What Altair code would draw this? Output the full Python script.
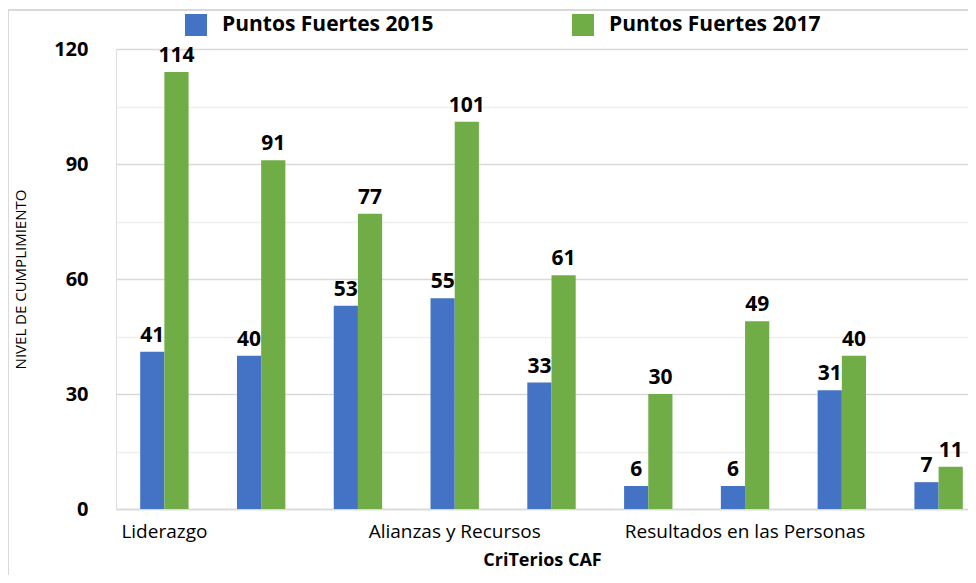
import altair as alt
import pandas as pd

categorias = [
    "Liderazgo",
    "Estrategia y Planificación",
    "Personas",
    "Alianzas y Recursos",
    "Procesos",
    "Resultados orientados a los Ciudadanos/Clientes",
    "Resultados en las Personas",
    "Resultados de Responsabilidad Social",
    "Resultados Clave de Rendimiento",
]
series = ["Puntos Fuertes 2015", "Puntos Fuertes 2017"]
valores_2015 = [41, 40, 53, 55, 33, 6, 6, 31, 7]
valores_2017 = [114, 91, 77, 101, 61, 30, 49, 40, 11]
etiquetas_visibles = ["Liderazgo", "Alianzas y Recursos", "Resultados en las Personas"]
colores = ["#4472C4", "#70AD47"]

rows = []
for c, v in zip(categorias, valores_2015):
    rows.append({"criterio": c, "serie": series[0], "valor": v})
for c, v in zip(categorias, valores_2017):
    rows.append({"criterio": c, "serie": series[1], "valor": v})
df = pd.DataFrame(rows)

FONT = "Open Sans"
vis_expr = "indexof(" + str(etiquetas_visibles) + ", datum.label) >= 0 ? datum.label : ''"

x_enc = alt.X(
    "criterio:N",
    sort=categorias,
    scale=alt.Scale(paddingInner=0.5, paddingOuter=0.25, range=[0, 871]),
    axis=alt.Axis(
        title="CriTerios CAF",
        labelExpr=vis_expr,
        labelOverlap=False,
        labelAngle=0,
        labelLimit=400,
        labelFont=FONT,
        labelFontSize=19,
        labelColor="#000000",
        labelPadding=13,
        ticks=False,
        domainColor="#d9d9d9",
        domainWidth=1.5,
        titleFont=FONT,
        titleFontSize=18,
        titleFontWeight="bold",
        titleColor="#000000",
        titlePadding=10,
        titleX=426,
    ),
)
y_enc = alt.Y(
    "valor:Q",
    scale=alt.Scale(domain=[0, 120], nice=False),
    axis=alt.Axis(
        title="NIVEL DE CUMPLIMIENTO",
        values=[0, 15, 30, 45, 60, 75, 90, 105, 120],
        labelExpr="datum.value % 30 == 0 ? datum.label : ''",
        labelFont=FONT,
        labelFontSize=20,
        labelFontWeight="bold",
        labelColor="#000000",
        labelPadding=28,
        ticks=False,
        domain=False,
        gridColor={"condition": {"test": "datum.value % 30 == 0", "value": "#d9d9d9"}, "value": "#efefef"},
        gridWidth=1.5,
        titleFont=FONT,
        titleFontSize=15,
        titleFontWeight="normal",
        titleColor="#000000",
        titleAngle=270,
        titleX=-96,
        titleY=230,
        titleAlign="center",
        titleBaseline="middle",
    ),
)
color_enc = alt.Color(
    "serie:N",
    sort=series,
    scale=alt.Scale(domain=series, range=colores),
    legend=alt.Legend(
        title=None,
        orient="none",
        direction="horizontal",
        legendX=69,
        legendY=-35,
        symbolType="square",
        symbolSize=484,
        symbolStrokeWidth=0,
        labelFont=FONT,
        labelFontSize=21,
        labelFontWeight="bold",
        labelColor="#000000",
        labelOffset=15,
        columnPadding=138,
        labelLimit=400,
    ),
)

base = alt.Chart(df).encode(
    x=x_enc,
    xOffset=alt.XOffset("serie:N", sort=series, scale=alt.Scale(paddingInner=0, paddingOuter=0)),
    y=y_enc,
)

bars = base.mark_bar().encode(color=color_enc)
labels = base.mark_text(
    baseline="bottom", dy=-6, font=FONT, fontSize=21, fontWeight="bold", color="#000000"
).encode(text="valor:Q")

frame_left = alt.Chart(df).mark_rule(color="#d9d9d9", strokeWidth=1.5).encode(
    x=alt.value(-108), y=alt.value(-39), y2=alt.value(540)
)
frame_top = alt.Chart(df).mark_rule(color="#d9d9d9", strokeWidth=1.5).encode(
    x=alt.value(-108), x2=alt.value(860), y=alt.value(-39)
)

chart = (
    alt.layer(frame_left, frame_top, bars, labels)
    .properties(
        width=852,
        height=460,
        autosize=alt.AutoSizeParams(type="none"),
        padding={"left": 108, "top": 41, "right": 0, "bottom": 66},
    )
    .configure_view(stroke=None)
    .configure(background="#ffffff")
)

chart.save("out.html", embed_options={"renderer": "svg", "actions": False})
